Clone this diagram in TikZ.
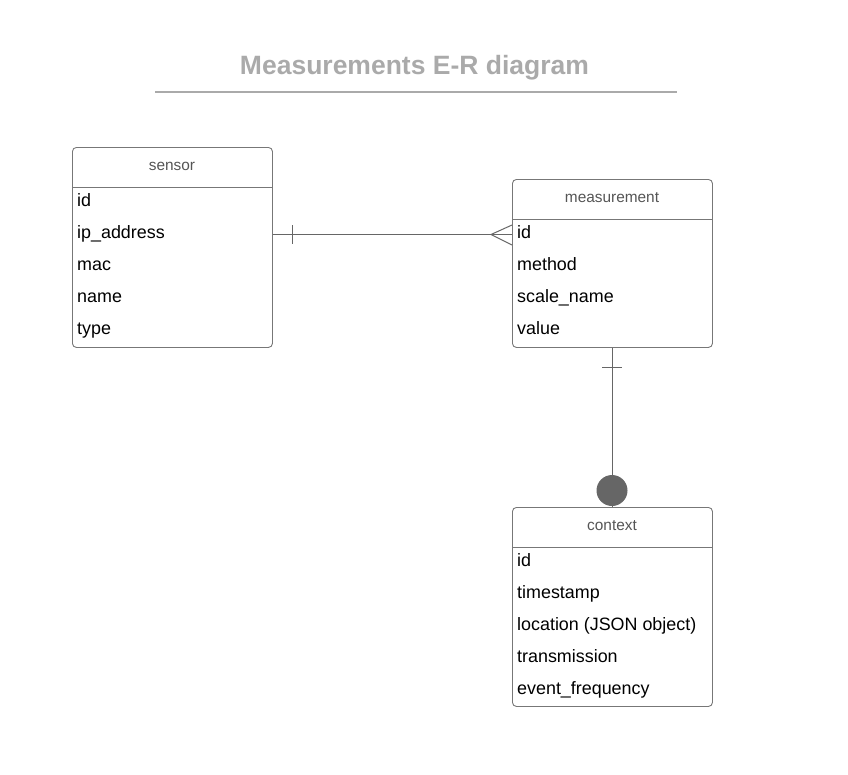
\documentclass[tikz,border=0pt]{standalone}
\usepackage{fontspec}
\setmainfont{Liberation Sans}
\definecolor{titlegray}{HTML}{AAAAAA}
\definecolor{boxgray}{HTML}{777777}
\definecolor{headgray}{HTML}{555555}
\definecolor{linegray}{HTML}{666666}
\begin{document}
\begin{tikzpicture}[x=1pt,y=-1pt,
  entity/.style={draw=boxgray,line width=0.9pt,rounded corners=4pt,inner sep=0pt,anchor=north west},
  headtext/.style={anchor=base,inner sep=0pt,text=headgray,font=\fontsize{15.4}{17}\selectfont},
  rowtext/.style={anchor=base west,inner sep=0pt,text=black,font=\fontsize{17.9}{20}\selectfont},
  divider/.style={draw=boxgray,line width=0.9pt},
  conn/.style={draw=linegray,line width=1pt}]
\useasboundingbox (0,0) rectangle (848,774);
\fill[white] (0,0) rectangle (848,774);
% title
\node[anchor=base,inner sep=0pt,text=titlegray,font=\fontsize{26.5}{30}\selectfont\bfseries] (title) at (414.5,74) {Measurements E-R diagram};
\coordinate (ulL) at (155,92);
\coordinate (ulR) at (677,92);
\draw[titlegray,line width=2pt] (ulL) -- (ulR);
% sensor
\node[entity,minimum width=200pt,minimum height=200pt] (sensor) at (72,147) {};
\draw[divider] (72,187) -- (272,187);
\node[headtext] (sensorh) at (172,170.5) {sensor};
\node[rowtext] (s1) at (77,206.5) {id};
\node[rowtext] (s2) at (77,238.5) {ip\_address};
\node[rowtext] (s3) at (77,270.5) {mac};
\node[rowtext] (s4) at (77,302.5) {name};
\node[rowtext] (s5) at (77,334.5) {type};
% measurement
\node[entity,minimum width=200pt,minimum height=168pt] (meas) at (512,179) {};
\draw[divider] (512,219) -- (712,219);
\node[headtext] (meash) at (612,202.5) {measurement};
\node[rowtext] (m1) at (517,238.5) {id};
\node[rowtext] (m2) at (517,270.5) {method};
\node[rowtext] (m3) at (517,302.5) {scale\_name};
\node[rowtext] (m4) at (517,334.5) {value};
% context
\node[entity,minimum width=200pt,minimum height=199pt] (ctx) at (512,507) {};
\draw[divider] (512,547) -- (712,547);
\node[headtext] (ctxh) at (612,530.5) {context};
\node[rowtext] (c1) at (517,566.5) {id};
\node[rowtext] (c2) at (517,598.5) {timestamp};
\node[rowtext] (c3) at (517,630.5) {location (JSON object)};
\node[rowtext] (c4) at (517,662.5) {transmission};
\node[rowtext] (c5) at (517,694.5) {event\_frequency};
% connector sensor -- measurement
\coordinate (aS) at (272,234.5);
\coordinate (aM) at (512,234.5);
\draw[conn] (sensor.east |- aS) -- (meas.west |- aM);
\draw[conn] (292,225) -- (292,244);
\draw[conn] (512,225) -- (491,234.5) -- (512,245);
% connector measurement -- context
\draw[conn] (meas.south) -- (ctx.north);
\draw[conn] (602,367) -- (622,367);
\fill[linegray] (612,490.5) circle (15.5pt);
\end{tikzpicture}
\end{document}
